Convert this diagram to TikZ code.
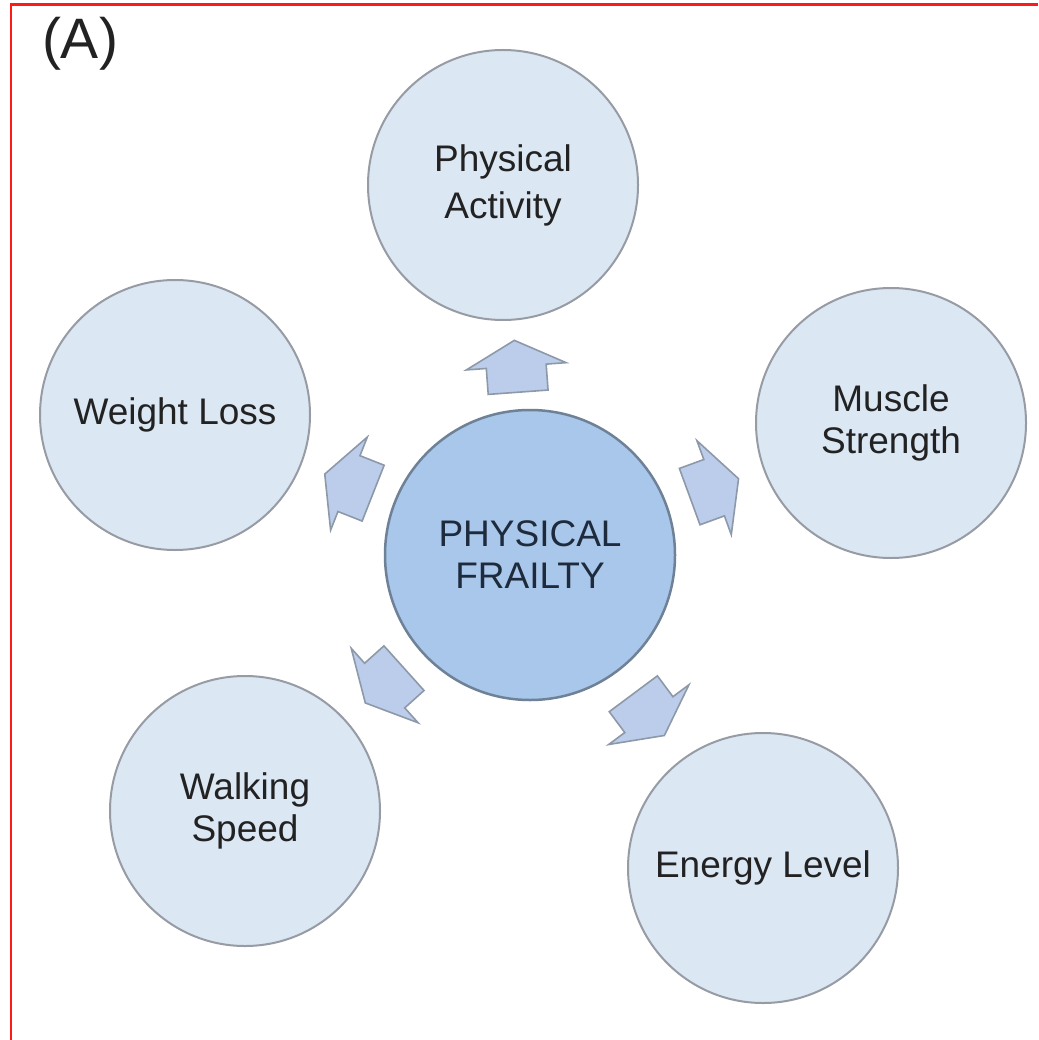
\documentclass[tikz,border=0pt]{standalone}
\usepackage{fontspec}
\setmainfont{Liberation Sans}
\usetikzlibrary{calc}
\definecolor{outerfill}{HTML}{DCE7F4}
\definecolor{outerdraw}{HTML}{979CA4}
\definecolor{centerfill}{HTML}{A8C7EA}
\definecolor{centerdraw}{HTML}{6F8196}
\definecolor{arrfill}{HTML}{BCCDEB}
\definecolor{arrdraw}{HTML}{8D99A8}
\definecolor{txtdark}{HTML}{222222}
\definecolor{txtnavy}{HTML}{1E2B3C}
\definecolor{framered}{HTML}{FF1A1A}
\begin{document}
\begin{tikzpicture}[x=1pt,y=-1pt,
  outercirc/.style={circle,draw=outerdraw,fill=outerfill,line width=2pt,
    minimum size=270pt,inner sep=0pt,align=center,text=txtdark,
    font=\fontsize{37}{42}\selectfont},
  centercirc/.style={circle,draw=centerdraw,fill=centerfill,line width=2.5pt,
    minimum size=290pt,inner sep=0pt,align=center,text=txtnavy,
    font=\fontsize{37}{42}\selectfont},
  blockarr/.pic={
    \path[fill=arrfill,draw=arrdraw,line width=1.6pt,line join=miter]
      (-26,-30) -- (0,-30) -- (0,-50) -- (26,0) -- (0,50) -- (0,30) -- (-26,30) -- cycle;
  }]
\useasboundingbox (0,0) rectangle (1038,1040);
\fill[white] (0,0) rectangle (1038,1040);
% frame
\draw[framered,line width=2.4pt] (10.7,1040) -- (10.7,4.5) -- (1038,4.5);
% label
\node[text=txtdark,font=\fontsize{57}{60}\selectfont] (lab) at (80,44) {(A)};
% circles
\node[centercirc] (fr) at (530,555) {PHYSICAL\\FRAILTY};
\node[outercirc] (pa) at (503,185) {Physical\\[5pt]Activity};
\node[outercirc] (ms) at (891,423) {Muscle\\Strength};
\node[outercirc] (wl) at (175,415) {Weight Loss};
\node[outercirc] (ws) at (245,811) {Walking\\Speed};
\node[outercirc] (el) at (763,868) {Energy Level};
% block arrows from centre towards each factor
\foreach \t in {pa,ms,wl,ws,el}{
  \path let \p1=($(\t)-(fr)$), \n1={atan2(\y1,\x1)} in
    ($(fr)!0.51!(\t)$) pic[rotate=\n1] {blockarr};
}
\end{tikzpicture}
\end{document}
